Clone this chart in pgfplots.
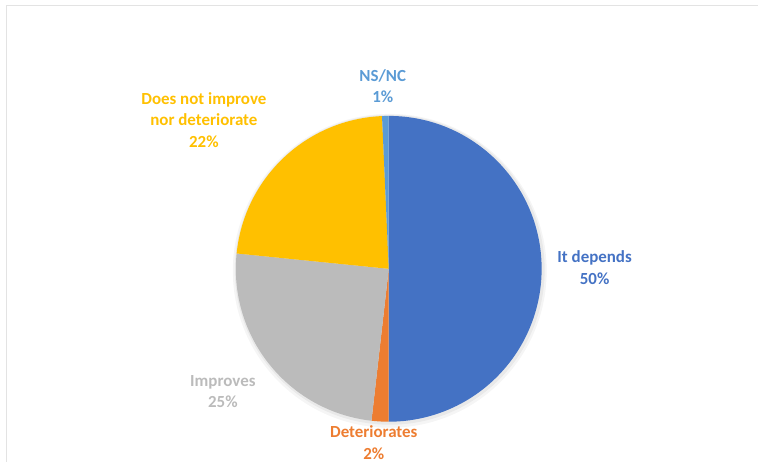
\documentclass[border=0pt]{standalone}
\usepackage{pgfplots}
\pgfplotsset{compat=1.18}
\usepackage{pgfplotstable}
\usepackage{fontspec}
\setmainfont{Carlito}
\definecolor{slice0}{HTML}{4472C4}
\definecolor{slice1}{HTML}{ED7D31}
\definecolor{slice2}{HTML}{BBBBBB}
\definecolor{slice3}{HTML}{FFC000}
\definecolor{slice4}{HTML}{5B9BD5}
\definecolor{framegray}{HTML}{E3E3E3}
\tikzset{lbl/.style={font=\bfseries\fontsize{17}{21.5}\selectfont, align=center, inner sep=0pt}}

% share of each slice, clockwise from 12 o'clock
\pgfplotstableread{
label value
depends 50.0
deteriorates 1.8
improves 24.8
neither 22.7
nsnc 0.7
}\piedata

\begin{document}
\begin{tikzpicture}
\gdef\curangle{90}
\foreach \i in {0,...,4}{%
  \pgfplotstablegetelem{\i}{value}\of\piedata
  \pgfmathsetmacro{\nexta}{\curangle-3.6*\pgfplotsretval}%
  \expandafter\xdef\csname startA\i\endcsname{\curangle}%
  \expandafter\xdef\csname endA\i\endcsname{\nexta}%
  \xdef\curangle{\nexta}%
}
\begin{axis}[
  scale only axis, width=758bp, height=462bp,
  xmin=0, xmax=758, ymin=0, ymax=462,
  hide axis, clip=false,
]
\path (axis cs:0,0) rectangle (axis cs:758,462);
\draw[framegray, line width=1bp] (axis cs:7,0) -- (axis cs:7,456) -- (axis cs:758,456);
% soft shadow
\fill[black, opacity=0.04] (axis cs:390,191) circle[radius=157bp];
\fill[black, opacity=0.05] (axis cs:390,192) circle[radius=155bp];
\pgfplotsinvokeforeach{0,...,4}{
  \fill[slice#1] (axis cs:389,193) -- ++(\csname startA#1\endcsname:153bp)
    arc[start angle=\csname startA#1\endcsname, end angle=\csname endA#1\endcsname, radius=153bp] -- cycle;
}
\node[lbl, text=slice0] at (axis cs:595,194) {It depends\\50\%};
\node[lbl, text=slice1] at (axis cs:374,19) {Deteriorates\\2\%};
\node[lbl, text=slice2] at (axis cs:223,70) {Improves\\25\%};
\node[lbl, text=slice3] at (axis cs:204,342) {Does not improve\\nor deteriorate\\22\%};
\node[lbl, text=slice4] at (axis cs:383,376) {NS/NC\\1\%};
\end{axis}
\end{tikzpicture}
\end{document}
